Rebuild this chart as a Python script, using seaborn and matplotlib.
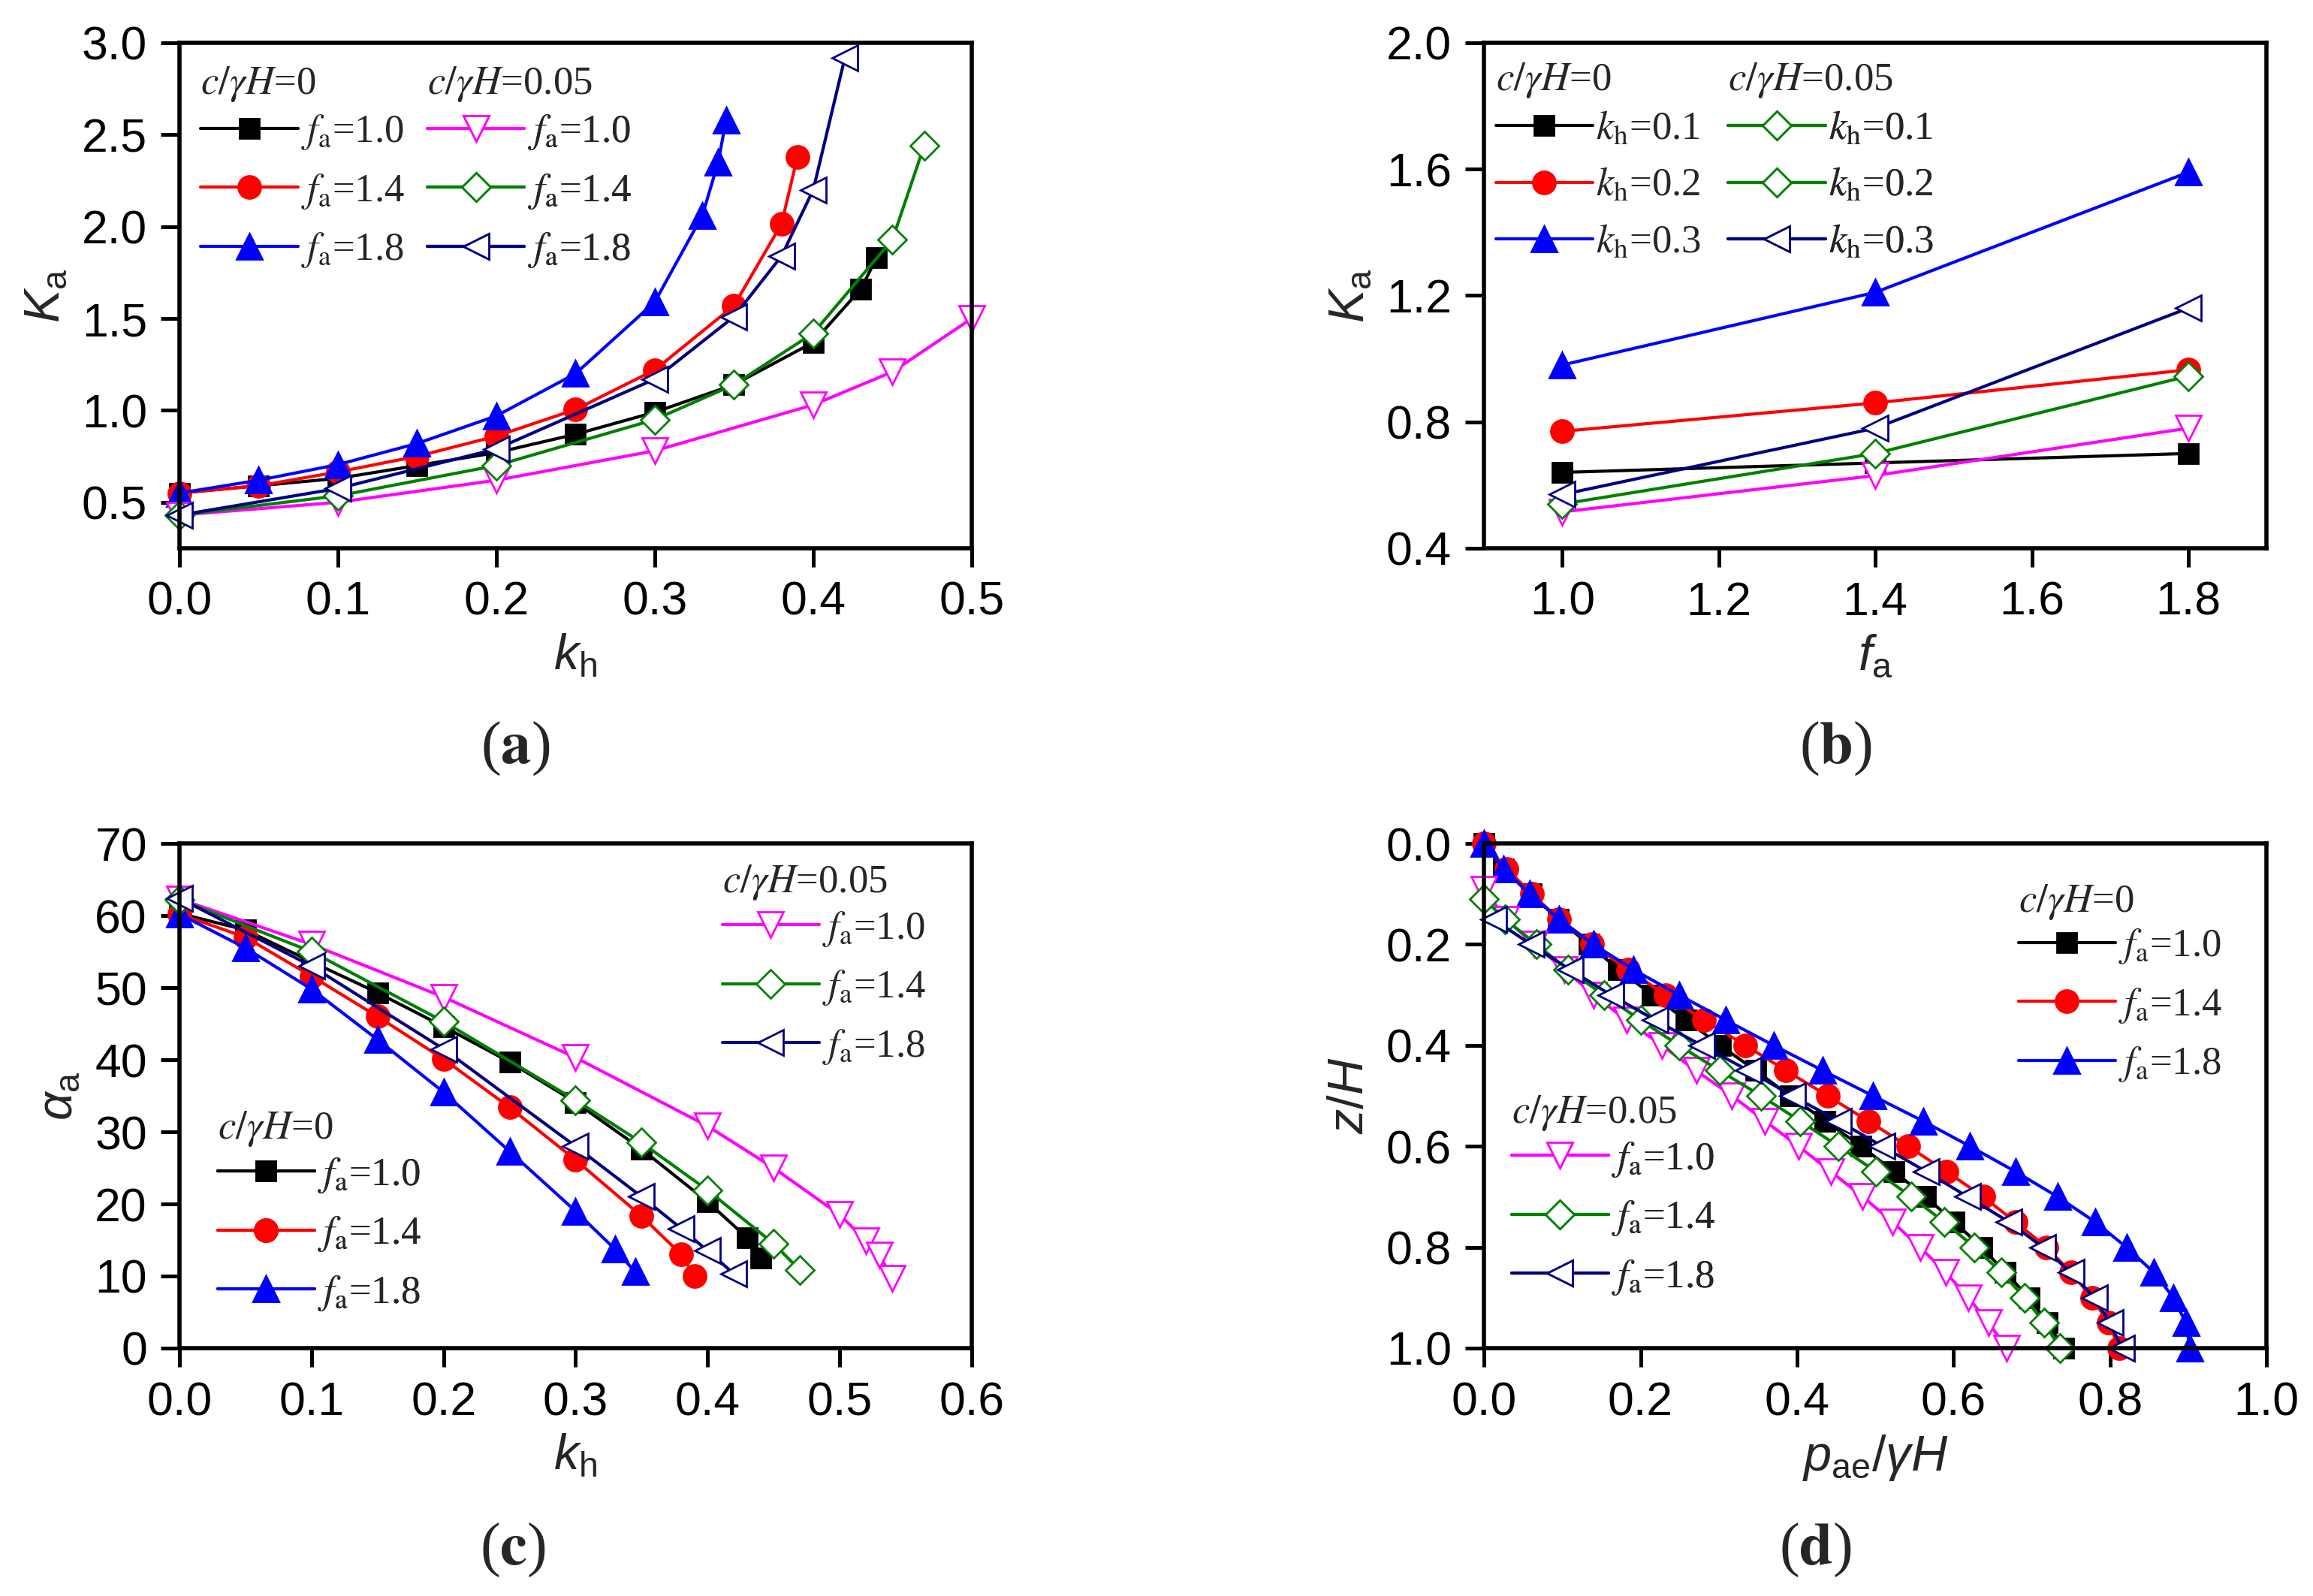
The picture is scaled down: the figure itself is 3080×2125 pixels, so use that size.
import matplotlib
matplotlib.use("Agg")
import matplotlib.pyplot as plt
from matplotlib.font_manager import FontProperties
from matplotlib.ticker import FormatStrFormatter, MultipleLocator
import seaborn as sns

# ---------------- (a) Ka vs kh ----------------
a_kh_c0_f10 = [0.0, 0.05, 0.10, 0.15, 0.20, 0.25, 0.30, 0.35, 0.40, 0.43, 0.44]
a_Ka_c0_f10 = [0.55, 0.59, 0.63, 0.70, 0.77, 0.87, 0.99, 1.14, 1.37, 1.66, 1.83]
a_kh_c0_f14 = [0.0, 0.05, 0.10, 0.15, 0.20, 0.25, 0.30, 0.35, 0.38, 0.39]
a_Ka_c0_f14 = [0.55, 0.59, 0.665, 0.75, 0.86, 1.005, 1.22, 1.57, 2.015, 2.38]
a_kh_c0_f18 = [0.0, 0.05, 0.10, 0.15, 0.20, 0.25, 0.30, 0.33, 0.34, 0.345]
a_Ka_c0_f18 = [0.55, 0.62, 0.705, 0.82, 0.97, 1.20, 1.59, 2.06, 2.35, 2.58]
a_kh_c005_f10 = [0.0, 0.10, 0.20, 0.30, 0.40, 0.45, 0.50]
a_Ka_c005_f10 = [0.43, 0.50, 0.62, 0.78, 1.03, 1.21, 1.50]
a_kh_c005_f14 = [0.0, 0.10, 0.20, 0.30, 0.35, 0.40, 0.45, 0.47]
a_Ka_c005_f14 = [0.43, 0.535, 0.70, 0.95, 1.14, 1.42, 1.93, 2.44]
a_kh_c005_f18 = [0.0, 0.10, 0.20, 0.30, 0.35, 0.38, 0.40, 0.42]
a_Ka_c005_f18 = [0.43, 0.575, 0.79, 1.17, 1.51, 1.84, 2.20, 2.92]

# ---------------- (b) Ka vs fa ----------------
b_fa = [1.0, 1.4, 1.8]
b_Ka_c0_kh01 = [0.64, 0.67, 0.70]
b_Ka_c0_kh02 = [0.77, 0.86, 0.965]
b_Ka_c0_kh03 = [0.98, 1.21, 1.59]
b_Ka_c005_kh01 = [0.515, 0.63, 0.78]
b_Ka_c005_kh02 = [0.54, 0.70, 0.945]
b_Ka_c005_kh03 = [0.57, 0.78, 1.16]

# ---------------- (c) alpha_a vs kh ----------------
c_kh_c0_f10 = [0.0, 0.05, 0.10, 0.15, 0.20, 0.25, 0.30, 0.35, 0.40, 0.43, 0.44]
c_al_c0_f10 = [60.3, 58.0, 53.6, 49.3, 44.6, 39.7, 34.1, 27.6, 20.3, 15.3, 12.5]
c_kh_c0_f14 = [0.0, 0.05, 0.10, 0.15, 0.20, 0.25, 0.30, 0.35, 0.38, 0.39]
c_al_c0_f14 = [60.2, 57.0, 51.6, 46.0, 40.1, 33.4, 26.1, 18.3, 13.0, 10.0]
c_kh_c0_f18 = [0.0, 0.05, 0.10, 0.15, 0.20, 0.25, 0.30, 0.33, 0.345]
c_al_c0_f18 = [60.2, 55.5, 49.8, 42.8, 35.5, 27.3, 19.0, 13.7, 10.6]
c_kh_c005_f10 = [0.0, 0.10, 0.20, 0.30, 0.40, 0.45, 0.50, 0.52, 0.53, 0.54]
c_al_c005_f10 = [62.3, 56.0, 48.7, 40.3, 30.8, 25.0, 18.5, 14.9, 12.9, 9.7]
c_kh_c005_f14 = [0.0, 0.10, 0.20, 0.30, 0.35, 0.40, 0.45, 0.47]
c_al_c005_f14 = [62.2, 55.0, 45.3, 34.4, 28.5, 21.9, 14.5, 10.8]
c_kh_c005_f18 = [0.0, 0.10, 0.20, 0.30, 0.35, 0.38, 0.40, 0.42]
c_al_c005_f18 = [62.4, 53.0, 41.5, 28.0, 21.0, 16.6, 13.5, 10.3]

# ---------------- (d) pressure distribution ----------------
d_z_c0 = [0.0, 0.05, 0.10, 0.15, 0.20, 0.25, 0.30, 0.35, 0.40, 0.45, 0.50,
          0.55, 0.60, 0.65, 0.70, 0.75, 0.80, 0.85, 0.90, 0.95, 1.00]
d_p_c0_f10 = [0.0, 0.025, 0.060, 0.095, 0.134, 0.172, 0.215, 0.258, 0.302, 0.347, 0.391,
              0.436, 0.482, 0.524, 0.564, 0.601, 0.636, 0.666, 0.697, 0.720, 0.741]
d_p_c0_f14 = [0.0, 0.029, 0.061, 0.096, 0.138, 0.184, 0.232, 0.281, 0.334, 0.386, 0.439,
              0.491, 0.542, 0.591, 0.638, 0.679, 0.719, 0.750, 0.777, 0.798, 0.812]
d_p_c0_f18 = [0.0, 0.025, 0.058, 0.096, 0.140, 0.191, 0.249, 0.309, 0.370, 0.433, 0.497,
              0.561, 0.621, 0.679, 0.733, 0.781, 0.821, 0.856, 0.881, 0.897, 0.902]
d_z_c005_f10 = [0.09, 0.15, 0.20, 0.25, 0.30, 0.35, 0.40, 0.45, 0.50, 0.55,
                0.60, 0.65, 0.70, 0.75, 0.80, 0.85, 0.90, 0.95, 1.00]
d_p_c005_f10 = [0.0, 0.028, 0.064, 0.103, 0.140, 0.182, 0.227, 0.271, 0.317, 0.359,
                0.402, 0.443, 0.484, 0.522, 0.557, 0.590, 0.619, 0.645, 0.668]
d_z_c005_f14 = [0.11, 0.15, 0.20, 0.25, 0.30, 0.35, 0.40, 0.45, 0.50, 0.55,
                0.60, 0.65, 0.70, 0.75, 0.80, 0.85, 0.90, 0.95, 1.00]
d_p_c005_f14 = [0.0, 0.027, 0.067, 0.107, 0.153, 0.200, 0.249, 0.301, 0.354, 0.404,
                0.453, 0.501, 0.546, 0.588, 0.627, 0.661, 0.691, 0.716, 0.736]
d_z_c005_f18 = [0.15, 0.20, 0.25, 0.30, 0.35, 0.40, 0.45, 0.50, 0.55,
                0.60, 0.65, 0.70, 0.75, 0.80, 0.85, 0.90, 0.95, 1.00]
d_p_c005_f18 = [0.012, 0.060, 0.110, 0.162, 0.219, 0.278, 0.338, 0.394, 0.453,
                0.509, 0.565, 0.618, 0.671, 0.714, 0.750, 0.780, 0.800, 0.815]

fa_labels = ["1.0", "1.4", "1.8"]
kh_labels = ["0.1", "0.2", "0.3"]

# marker / colour per series
STYLES = {
    "c0_1": dict(color="black", marker="s", ms=9.7, filled=True),
    "c0_2": dict(color="#FF0000", marker="o", ms=10.8, filled=True),
    "c0_3": dict(color="#0000FF", marker="^", ms=12.5, filled=True),
    "c005_1": dict(color="#FF00FF", marker="v", ms=12.5, filled=False),
    "c005_2": dict(color="#008000", marker="D", ms=9.5, filled=False),
    "c005_3": dict(color="#000080", marker="<", ms=12.5, filled=False),
}

sns.set_theme(style="ticks")
plt.rcParams["font.family"] = ["Liberation Sans", "DejaVu Sans"]
plt.rcParams["mathtext.fontset"] = "custom"
plt.rcParams["mathtext.rm"] = "Liberation Sans"
plt.rcParams["mathtext.it"] = "Liberation Sans:italic"
plt.rcParams["mathtext.bf"] = "Liberation Sans:bold"

LEG = FontProperties(family="Liberation Serif", size=19, math_fontfamily="stix")
PANEL = FontProperties(family="Liberation Serif", size=29, math_fontfamily="stix")
TICK_FS = 22.5
LABEL_FS = 24


def draw(ax, x, y, key):
    st = STYLES[key]
    sns.lineplot(x=x, y=y, ax=ax, sort=False, estimator=None,
                 color=st["color"], marker=st["marker"], markersize=st["ms"],
                 markerfacecolor=st["color"] if st["filled"] else "white",
                 markeredgecolor=st["color"], markeredgewidth=1.0,
                 linewidth=1.5, clip_on=False)
    return ax.lines[-1]


def style_axes(ax):
    for sp in ax.spines.values():
        sp.set_linewidth(2.0)
        sp.set_color("black")
    ax.tick_params(axis="both", direction="out", length=9, width=1.8,
                   labelsize=TICK_FS, pad=6.5, top=False, right=False,
                   colors="black")


def group_legend(ax, handles, labels, title, x, y_head, y_mid):
    # header text above the key, then three rows centred on the middle one
    ax.text(x, y_head, title, transform=ax.transAxes, fontproperties=LEG,
            ha="left", va="center")
    leg = ax.legend(handles=handles, labels=labels, loc="center left",
                    bbox_to_anchor=(x, y_mid), frameon=False, prop=LEG,
                    handlelength=2.45, handletextpad=0.08, labelspacing=0.5,
                    borderpad=0, borderaxespad=0)
    ax.add_artist(leg)
    return leg


fig = plt.figure(figsize=(15.4, 10.625), dpi=200)
ax_a = fig.add_axes([0.0776, 0.6565, 0.3425, 0.3167])
ax_b = fig.add_axes([0.6416, 0.6565, 0.3383, 0.3167])
ax_c = fig.add_axes([0.0776, 0.1553, 0.3425, 0.3162])
ax_d = fig.add_axes([0.6416, 0.1553, 0.3383, 0.3162])

T0 = r"$c/\gamma H$=0"
T5 = r"$c/\gamma H$=0.05"
fa_lab = [r"$f_\mathrm{a}$=" + s for s in fa_labels]
kh_lab = [r"$k_\mathrm{h}$=" + s for s in kh_labels]

# ---- (a)
la = [draw(ax_a, a_kh_c0_f10, a_Ka_c0_f10, "c0_1"),
      draw(ax_a, a_kh_c0_f14, a_Ka_c0_f14, "c0_2"),
      draw(ax_a, a_kh_c0_f18, a_Ka_c0_f18, "c0_3"),
      draw(ax_a, a_kh_c005_f10, a_Ka_c005_f10, "c005_1"),
      draw(ax_a, a_kh_c005_f14, a_Ka_c005_f14, "c005_2"),
      draw(ax_a, a_kh_c005_f18, a_Ka_c005_f18, "c005_3")]
ax_a.set_xlim(0, 0.5)
ax_a.set_ylim(0.25, 3.0)
ax_a.xaxis.set_major_locator(MultipleLocator(0.1))
ax_a.yaxis.set_major_locator(MultipleLocator(0.5))
ax_a.xaxis.set_major_formatter(FormatStrFormatter("%.1f"))
ax_a.yaxis.set_major_formatter(FormatStrFormatter("%.1f"))
ax_a.set_xlabel(r"$k_\mathrm{h}$", fontsize=LABEL_FS, labelpad=4)
ax_a.set_ylabel(r"$K_\mathrm{a}$", fontsize=LABEL_FS, labelpad=6)
group_legend(ax_a, la[:3], fa_lab, T0, 0.027, 0.918, 0.706)
group_legend(ax_a, la[3:], fa_lab, T5, 0.313, 0.918, 0.706)

# ---- (b)
lb = [draw(ax_b, b_fa, b_Ka_c0_kh01, "c0_1"),
      draw(ax_b, b_fa, b_Ka_c0_kh02, "c0_2"),
      draw(ax_b, b_fa, b_Ka_c0_kh03, "c0_3"),
      draw(ax_b, b_fa, b_Ka_c005_kh01, "c005_1"),
      draw(ax_b, b_fa, b_Ka_c005_kh02, "c005_2"),
      draw(ax_b, b_fa, b_Ka_c005_kh03, "c005_3")]
ax_b.set_xlim(0.9, 1.9)
ax_b.set_ylim(0.4, 2.0)
ax_b.set_xticks([1.0, 1.2, 1.4, 1.6, 1.8])
ax_b.yaxis.set_major_locator(MultipleLocator(0.4))
ax_b.xaxis.set_major_formatter(FormatStrFormatter("%.1f"))
ax_b.yaxis.set_major_formatter(FormatStrFormatter("%.1f"))
ax_b.set_xlabel(r"$f_\mathrm{a}$", fontsize=LABEL_FS, labelpad=4)
ax_b.set_ylabel(r"$K_\mathrm{a}$", fontsize=LABEL_FS, labelpad=6)
group_legend(ax_b, lb[:3], kh_lab, T0, 0.015, 0.925, 0.717)
# the original key repeats the diamond for k_h=0.1
group_legend(ax_b, [lb[4], lb[4], lb[5]], kh_lab, T5, 0.312, 0.925, 0.717)

# ---- (c)
lc = [draw(ax_c, c_kh_c0_f10, c_al_c0_f10, "c0_1"),
      draw(ax_c, c_kh_c0_f14, c_al_c0_f14, "c0_2"),
      draw(ax_c, c_kh_c0_f18, c_al_c0_f18, "c0_3"),
      draw(ax_c, c_kh_c005_f10, c_al_c005_f10, "c005_1"),
      draw(ax_c, c_kh_c005_f14, c_al_c005_f14, "c005_2"),
      draw(ax_c, c_kh_c005_f18, c_al_c005_f18, "c005_3")]
ax_c.set_xlim(0, 0.6)
ax_c.set_ylim(0, 70)
ax_c.xaxis.set_major_locator(MultipleLocator(0.1))
ax_c.yaxis.set_major_locator(MultipleLocator(10))
ax_c.xaxis.set_major_formatter(FormatStrFormatter("%.1f"))
ax_c.set_xlabel(r"$k_\mathrm{h}$", fontsize=LABEL_FS, labelpad=4)
ax_c.set_ylabel(r"$\alpha_\mathrm{a}$", fontsize=LABEL_FS, labelpad=6)
group_legend(ax_c, lc[3:], fa_lab, T5, 0.685, 0.922, 0.714)
group_legend(ax_c, lc[:3], fa_lab, T0, 0.048, 0.434, 0.226)

# ---- (d)
ld = [draw(ax_d, d_p_c0_f10, d_z_c0, "c0_1"),
      draw(ax_d, d_p_c0_f14, d_z_c0, "c0_2"),
      draw(ax_d, d_p_c0_f18, d_z_c0, "c0_3"),
      draw(ax_d, d_p_c005_f10, d_z_c005_f10, "c005_1"),
      draw(ax_d, d_p_c005_f14, d_z_c005_f14, "c005_2"),
      draw(ax_d, d_p_c005_f18, d_z_c005_f18, "c005_3")]
ax_d.set_xlim(0, 1.0)
ax_d.set_ylim(1.0, 0.0)
ax_d.xaxis.set_major_locator(MultipleLocator(0.2))
ax_d.yaxis.set_major_locator(MultipleLocator(0.2))
ax_d.xaxis.set_major_formatter(FormatStrFormatter("%.1f"))
ax_d.yaxis.set_major_formatter(FormatStrFormatter("%.1f"))
ax_d.set_xlabel(r"$p_\mathrm{ae}/\gamma H$", fontsize=LABEL_FS, labelpad=4)
ax_d.set_ylabel(r"$z/H$", fontsize=LABEL_FS, labelpad=6)
group_legend(ax_d, ld[:3], fa_lab, T0, 0.683, 0.884, 0.679)
group_legend(ax_d, ld[3:], fa_lab, T5, 0.035, 0.466, 0.257)

for ax in (ax_a, ax_b, ax_c, ax_d):
    style_axes(ax)

fig.text(0.2227, 0.5308, r"($\mathbf{a}$)", fontproperties=PANEL, ha="center", va="center")
fig.text(0.7938, 0.5308, r"($\mathbf{b}$)", fontproperties=PANEL, ha="center", va="center")
fig.text(0.2218, 0.0287, r"($\mathbf{c}$)", fontproperties=PANEL, ha="center", va="center")
fig.text(0.7850, 0.0287, r"($\mathbf{d}$)", fontproperties=PANEL, ha="center", va="center")

fig.savefig("out.png", dpi=200, facecolor="white")
